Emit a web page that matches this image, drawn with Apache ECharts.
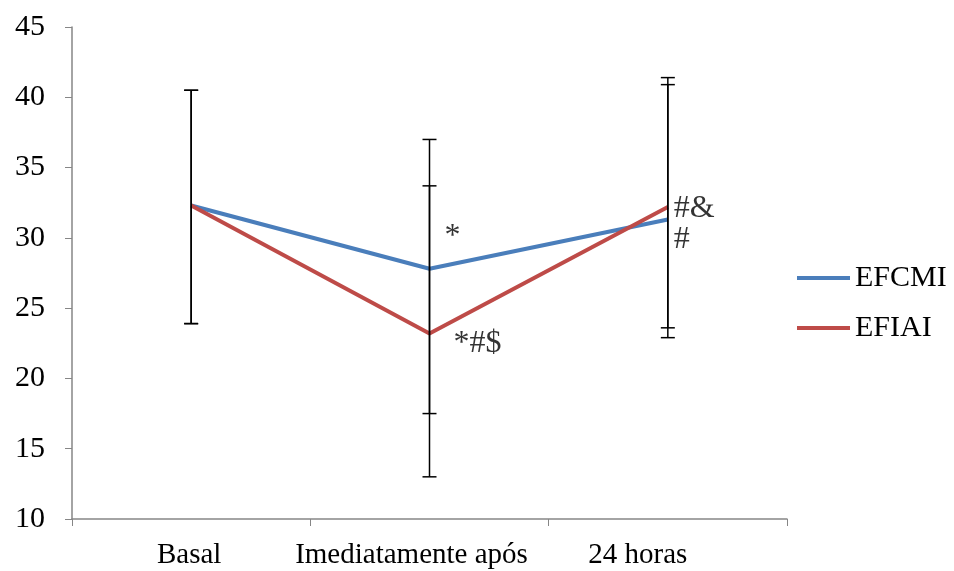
<!DOCTYPE html>
<html>
<head>
<meta charset="utf-8">
<script src="https://cdn.jsdelivr.net/npm/echarts@6/dist/echarts.min.js"></script>
<style>html,body{margin:0;padding:0;background:#fff;}#c{width:954px;height:571px;}</style>
</head>
<body>
<div id="c"></div>
<script>
var categories = ['Basal', 'Imediatamente após', '24 horas'];
var seriesNames = ['EFCMI', 'EFIAI'];
var efcmi = [32.3, 27.8, 31.3];
var efiai = [32.3, 23.2, 32.2];
var efcmiLow = [23.9, 17.5, 23.6];
var efcmiHigh = [40.5, 37.0, 40.9];
var efiaiLow = [23.9, 13.0, 22.9];
var efiaiHigh = [40.5, 33.7, 41.4];
var noteTexts = ['*', '*#$', '#&', '#'];
var noteCats = [1, 1, 2, 2];
var noteValues = [30.1, 22.5, 32.1, 29.85];
var yTicks = [10, 15, 20, 25, 30, 35, 40, 45];

var font = '"Liberation Serif", "Times New Roman", serif';
var blue = '#4A7EBB', red = '#BE4B48';

function errSeries(low, high) {
  var data = low.map(function (l, i) { return [i, l, high[i]]; });
  return {
    type: 'custom',
    z: 5,
    silent: true,
    data: data,
    renderItem: function (params, api) {
      var x = api.value(0);
      var lo = api.coord([x, api.value(1)]);
      var hi = api.coord([x, api.value(2)]);
      var w = 7;
      var st = { stroke: '#000', lineWidth: 1.5 };
      return {
        type: 'group',
        children: [
          { type: 'line', shape: { x1: lo[0], y1: lo[1], x2: hi[0], y2: hi[1] }, style: st },
          { type: 'line', shape: { x1: lo[0] - w, y1: lo[1], x2: lo[0] + w, y2: lo[1] }, style: st },
          { type: 'line', shape: { x1: hi[0] - w, y1: hi[1], x2: hi[0] + w, y2: hi[1] }, style: st }
        ]
      };
    }
  };
}

var noteOffsets = [[15, 0], [24, 0], [6, 0], [6, 0]];
var noteData = noteTexts.map(function (t, i) {
  return {
    value: [noteCats[i], noteValues[i]],
    label: { formatter: t, offset: noteOffsets[i] }
  };
});

var labelKeys = ['a', 'b', 'c'];

var chart = echarts.init(document.getElementById('c'));
chart.setOption({
  animation: false,
  backgroundColor: '#fff',
  grid: { left: 72, right: 167, top: 27, bottom: 52, containLabel: false },
  legend: {
    orient: 'vertical',
    left: 792,
    top: 257,
    itemWidth: 53,
    itemHeight: 4,
    itemGap: 18,
    icon: 'rect',
    data: seriesNames,
    textStyle: { fontFamily: font, fontSize: 30, color: '#000', lineHeight: 32 }
  },
  xAxis: {
    type: 'category',
    data: categories,
    boundaryGap: true,
    axisLine: { lineStyle: { color: '#868686', width: 1.5 } },
    axisTick: { show: true, length: 7, interval: 0, lineStyle: { color: '#868686' } },
    axisLabel: {
      fontFamily: font, fontSize: 29, color: '#000', margin: 22, interval: 0,
      formatter: function (v, i) { return '{' + labelKeys[i] + '|' + v + '}'; },
      rich: {
        a: { fontFamily: font, fontSize: 29, color: '#000', padding: [0, 4, 0, 0] },
        b: { fontFamily: font, fontSize: 29, color: '#000', padding: [0, 36, 0, 0] },
        c: { fontFamily: font, fontSize: 29, color: '#000', padding: [0, 60, 0, 0] }
      }
    },
    splitLine: { show: false }
  },
  yAxis: {
    type: 'value',
    min: 10,
    max: 45,
    interval: 5,
    axisLine: { show: true, lineStyle: { color: '#868686', width: 1.5 } },
    axisTick: { show: true, length: 7, lineStyle: { color: '#868686' } },
    axisLabel: {
      fontFamily: font, fontSize: 30, color: '#000', margin: 27,
      formatter: function (v) { return yTicks.indexOf(v) >= 0 ? String(v) : ''; }
    },
    splitLine: { show: false }
  },
  series: [
    {
      name: seriesNames[0], type: 'line', data: efcmi, showSymbol: false, symbol: 'none',
      lineStyle: { color: blue, width: 4 }, itemStyle: { color: blue }, z: 3
    },
    {
      name: seriesNames[1], type: 'line', data: efiai, showSymbol: false, symbol: 'none',
      lineStyle: { color: red, width: 4 }, itemStyle: { color: red }, z: 4
    },
    errSeries(efcmiLow, efcmiHigh),
    errSeries(efiaiLow, efiaiHigh),
    {
      type: 'scatter', symbolSize: 0, silent: true, z: 6,
      data: noteData,
      label: {
        show: true, position: 'inside', align: 'left', verticalAlign: 'middle',
        fontFamily: font, fontSize: 32, color: '#000'
      }
    }
  ]
});
</script>
</body>
</html>
